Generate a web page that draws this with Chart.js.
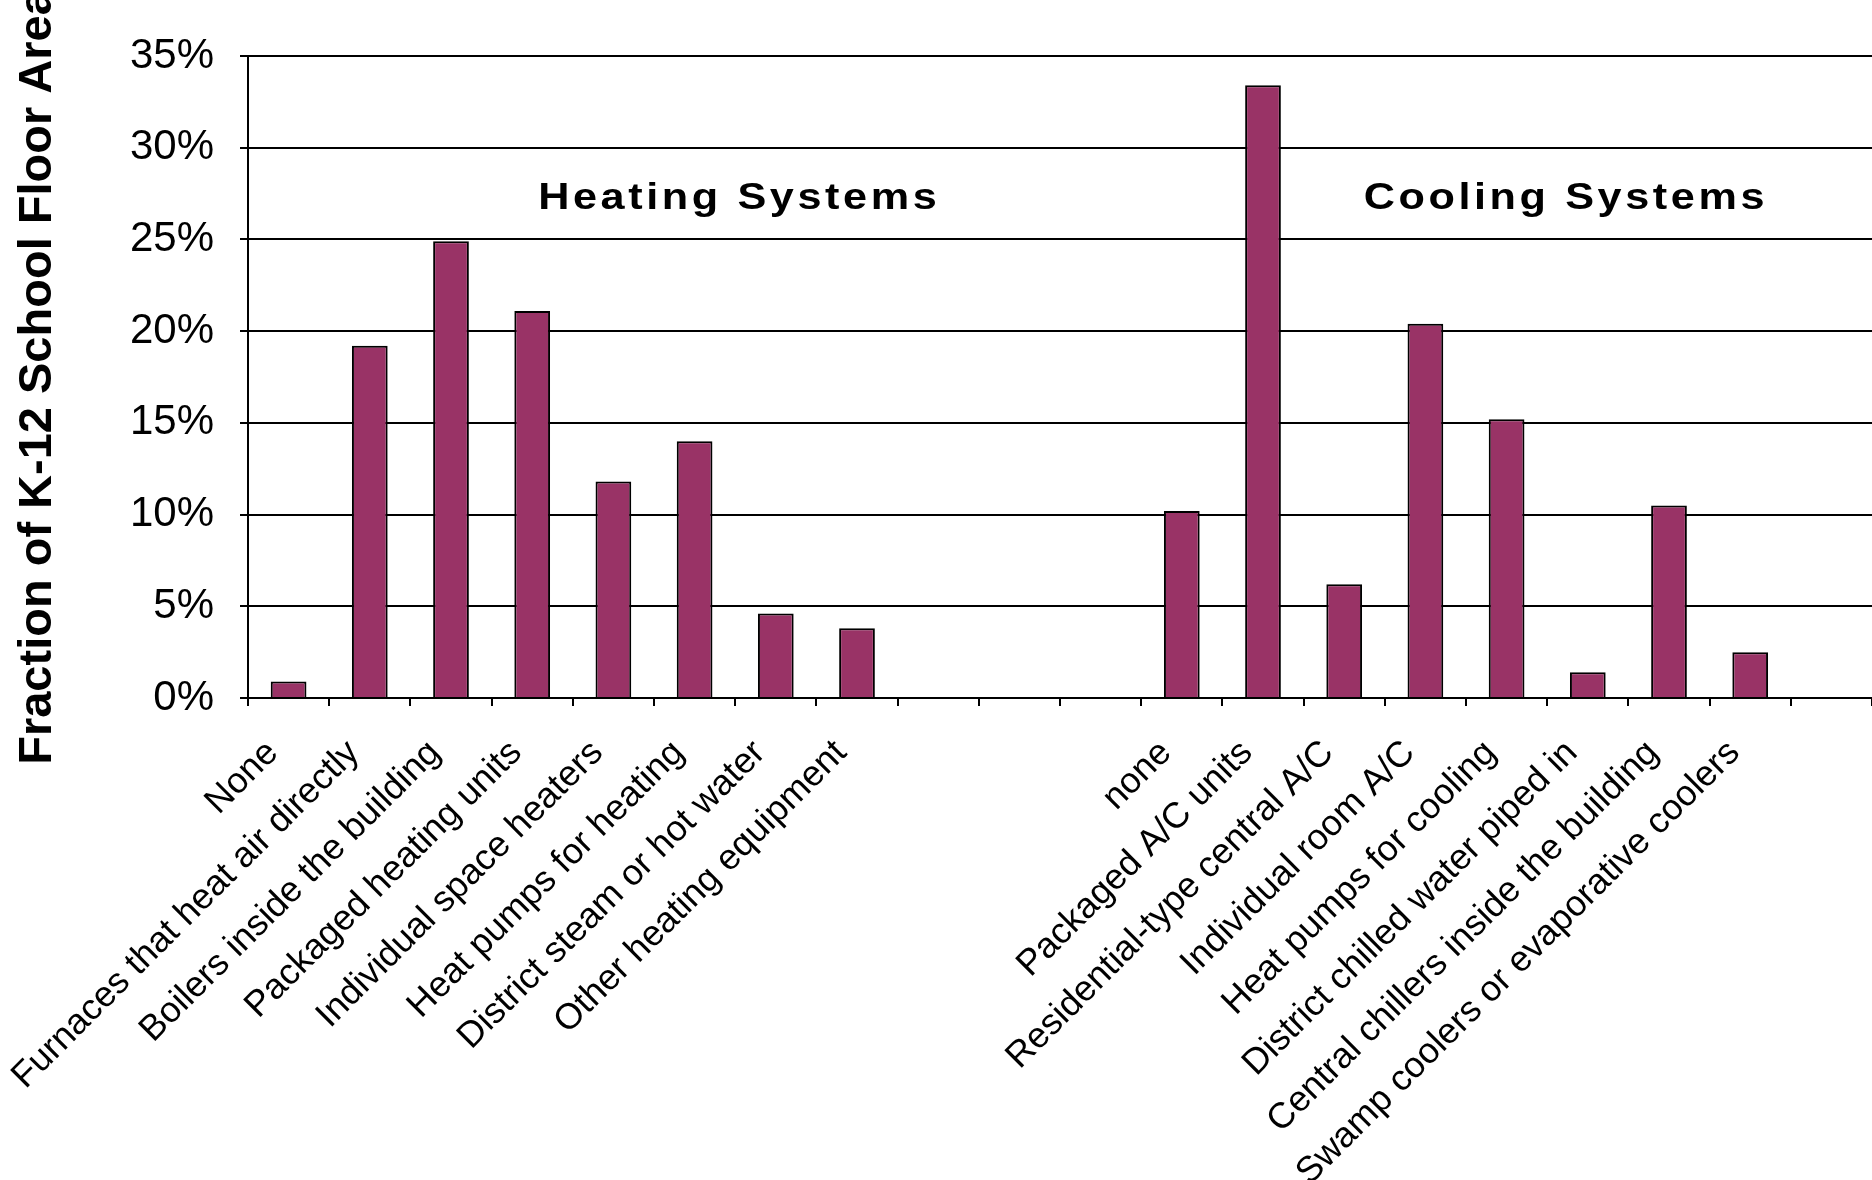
<!DOCTYPE html>
<html>
<head>
<meta charset="utf-8">
<script src="https://cdn.jsdelivr.net/npm/chart.js@4"></script>
<style>
  html, body { margin: 0; padding: 0; background: #fff; }
  #wrap { width: 1872px; height: 1180px; }
</style>
</head>
<body>
<div id="wrap"><canvas id="myChart"></canvas></div>
<script>
  const heatingLabels = ['None', 'Furnaces that heat air directly', 'Boilers inside the building',
    'Packaged heating units', 'Individual space heaters', 'Heat pumps for heating',
    'District steam or hot water', 'Other heating equipment'];
  const heatingValues = [0.9, 19.2, 24.9, 21.1, 11.8, 14.0, 4.6, 3.8];

  const coolingLabels = ['none', 'Packaged A/C units', 'Residential-type central A/C',
    'Individual room A/C', 'Heat pumps for cooling', 'District chilled water piped in',
    'Central chillers inside the building', 'Swamp coolers or evaporative coolers'];
  const coolingValues = [10.2, 33.4, 6.2, 20.4, 15.2, 1.4, 10.5, 2.5];

  const yTicks = [0, 5, 10, 15, 20, 25, 30, 35];
  const groupTitles = ['Heating Systems', 'Cooling Systems'];

  // empty slots between the two groups and after the last one
  const gap = ['', '', ''];
  const labels = [...heatingLabels, ...gap, ...coolingLabels, ''];
  const values = [...heatingValues, null, null, null, ...coolingValues, null];

  const FONT = '"Liberation Sans", Arial, sans-serif';

  // group headings block (text is a bit stretched sideways like the original)
  const groupHeadings = {
    id: 'groupHeadings',
    afterDatasetsDraw(chart) {
      const { ctx, scales: { x, y } } = chart;
      const spots = [[5.55, 27.2], [15.73, 27.2]];
      spots.forEach(([i, v], k) => {
        ctx.save();
        ctx.translate(x.getPixelForValue(i), y.getPixelForValue(v));
        ctx.scale(1.2, 1);
        ctx.font = 'bold 36px ' + FONT;
        ctx.letterSpacing = '3px';
        ctx.fillStyle = '#000';
        ctx.textAlign = 'center';
        ctx.textBaseline = 'middle';
        ctx.fillText(groupTitles[k], 0, 0);
        ctx.restore();
      });
    }
  };

  const config = {
    type: 'bar',
    data: {
      labels,
      datasets: [{
        data: values,
        backgroundColor: '#993366',
        borderColor: '#000',
        borderWidth: 2,
        barPercentage: 0.44,
        categoryPercentage: 1
      }]
    },
    options: {
      responsive: true,
      maintainAspectRatio: false,
      animation: false,
      events: [],
      layout: { padding: { top: 56, left: 0, right: 0, bottom: 0 } },
      plugins: {
        legend: { display: false },
        tooltip: { enabled: false }
      },
      scales: {
        x: {
          grid: { display: true, drawOnChartArea: false, drawTicks: true, tickLength: 8, color: '#000', lineWidth: 2, offset: true },
          border: { display: true, color: '#000', width: 2 },
          ticks: {
            autoSkip: false, minRotation: 45, maxRotation: 45, padding: 26, labelOffset: -16,
            color: '#000', font: { family: FONT, size: 36 }
          },
          afterFit(scale) {
            scale.height = 482;
            scale.paddingLeft = 0;
            scale.paddingRight = 0;
          }
        },
        y: {
          min: 0,
          max: 35,
          afterBuildTicks(scale) { scale.ticks = yTicks.map(v => ({ value: v })); },
          ticks: {
            callback: v => v + '%', padding: 26,
            color: '#000', font: { family: FONT, size: 42 }
          },
          grid: { color: '#000', lineWidth: 2, tickLength: 8, drawTicks: true },
          border: { color: '#000', width: 2 },
          title: {
            display: true, text: 'Fraction of K-12 School Floor Area', padding: { top: 10, bottom: 0 },
            color: '#000', font: { family: FONT, size: 47, weight: 'bold' }
          },
          afterFit(scale) { scale.width = 248; }
        }
      }
    },
    plugins: [groupHeadings]
  };

  const myChart = new Chart(document.getElementById('myChart'), config);
</script>
</body>
</html>
